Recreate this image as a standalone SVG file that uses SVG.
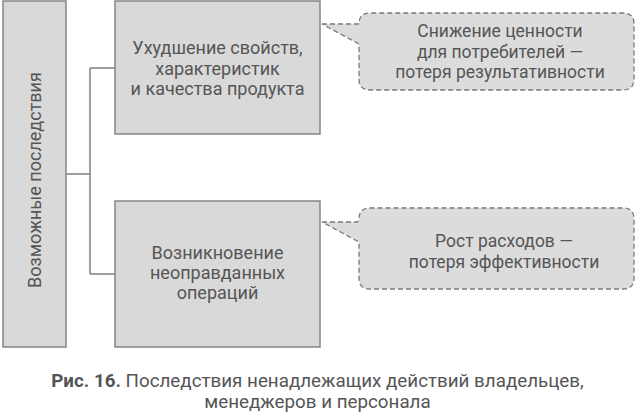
<svg xmlns="http://www.w3.org/2000/svg" width="635" height="417" viewBox="0 0 635 417">
<style>
.box{fill:#d9d9d9;stroke:#858585;stroke-width:1.5}
.call{fill:#dcdcdc;stroke:#7a7a7a;stroke-width:1.3;stroke-dasharray:5 3}
.t{font-family:Roboto,"Liberation Sans",sans-serif;font-size:18px;fill:#555;text-anchor:middle}
.ct{font-family:Roboto,"Liberation Sans",sans-serif;font-size:17.5px;fill:#555;text-anchor:middle}
.cap{font-family:Roboto,"Liberation Sans",sans-serif;font-size:18.8px;fill:#555;text-anchor:middle}
.ln{fill:none;stroke:#808080;stroke-width:1.5}
</style>
<rect width="635" height="417" fill="#fff"/>
<g id="connectors">
<path class="ln" d="M66,174 H90 M90,68 V274 M90,68 H115 M90,274 H115"/>
</g>
<g id="root">
<rect class="box" x="3" y="1" width="63" height="346"/>
<text class="t" transform="translate(41,180) rotate(-90)" x="0" y="0">Возможные последствия</text>
</g>
<g id="n1">
<rect class="box" x="115" y="1" width="205" height="133"/>
<text class="t"><tspan x="217.5" y="54">Ухудшение свойств,</tspan><tspan x="217.5" y="75">характеристик</tspan><tspan x="217.5" y="95">и качества продукта</tspan></text>
</g>
<g id="n2">
<rect class="box" x="115" y="201" width="205" height="146"/>
<text class="t"><tspan x="217.5" y="259">Возникновение</tspan><tspan x="217.5" y="279">неоправданных</tspan><tspan x="217.5" y="299">операций</tspan></text>
</g>
<g id="c1">
<path class="call" d="M322,24 H359 Q359,13 370,13 H623 Q634,13 634,24 V79 Q634,90 623,90 H370 Q359,90 359,79 V44 Z"/>
<text class="ct"><tspan x="500" y="37">Снижение ценности</tspan><tspan x="500" y="58">для потребителей —</tspan><tspan x="500" y="78">потеря результативности</tspan></text>
</g>
<g id="c2">
<path class="call" d="M322,222 H356 Q359,222 359,219 Q359,208 370,208 H623 Q634,208 634,219 V278 Q634,289 623,289 H370 Q359,289 359,278 V242 Z"/>
<text class="ct"><tspan x="504" y="247">Рост расходов —</tspan><tspan x="504" y="268">потеря эффективности</tspan></text>
</g>
<g id="caption">
<text class="cap"><tspan x="317.5" y="387"><tspan font-weight="bold">Рис. 16.</tspan> Последствия ненадлежащих действий владельцев,</tspan><tspan x="317.5" y="408">менеджеров и персонала</tspan></text>
</g>
</svg>
